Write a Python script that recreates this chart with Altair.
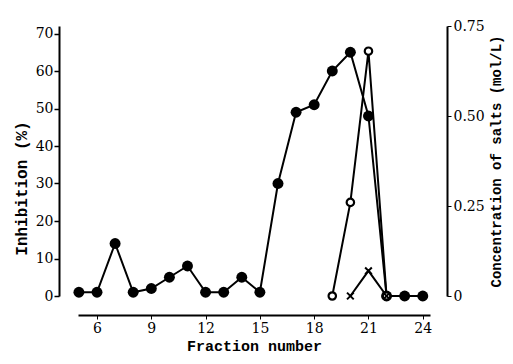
import altair as alt
import pandas as pd

# Inhibition (%) — filled circles
frac_inh = [5, 6, 7, 8, 9, 10, 11, 12, 13, 14, 15, 16, 17, 18, 19, 20, 21, 22, 23, 24]
inhibition = [1, 1, 14, 1, 2, 5, 8, 1, 1, 5, 1, 30, 49, 51, 60, 65, 48, 0, 0, 0]

# Salt concentration (mol/L) — open circles
frac_open = [19, 20, 21, 22]
salt_open = [0.0, 0.26, 0.68, 0.0]

# Salt concentration (mol/L) — crosses
frac_cross = [20, 21, 22]
salt_cross = [0.0, 0.07, 0.0]

x_ticks = [6, 9, 12, 15, 18, 21, 24]
left_ticks = [0, 10, 20, 30, 40, 50, 60, 70]
right_ticks = [0, 0.25, 0.5, 0.75]

df_inh = pd.DataFrame({"frac": frac_inh, "val": inhibition})
df_salt = pd.concat([
    pd.DataFrame({"frac": frac_open, "val": salt_open, "series": "open"}),
    pd.DataFrame({"frac": frac_cross, "val": salt_cross, "series": "cross"}),
])

LABEL_FONT = "DejaVu Serif"
TITLE_FONT = "Liberation Mono"

x_enc = alt.X("frac:Q",
              scale=alt.Scale(domain=[4.95, 24.4], nice=False, zero=False),
              axis=alt.Axis(values=x_ticks, title="Fraction number", offset=19,
                            grid=False, labelFont=LABEL_FONT, labelFontSize=14,
                            titleFont=TITLE_FONT, titleFontSize=15, titleFontWeight="bold",
                            titlePadding=3, domainWidth=2, domainColor="black",
                            tickColor="black", labelColor="black", titleColor="black",
                            tickSize=4))

y_left = alt.Y("val:Q",
               scale=alt.Scale(domain=[0, 72], nice=False),
               axis=alt.Axis(values=left_ticks, title="Inhibition (%)", offset=19,
                             grid=False, labelFont=LABEL_FONT, labelFontSize=14,
                             titleFont=TITLE_FONT, titleFontSize=16, titleFontWeight="bold",
                             titlePadding=6, titleY=162, domainWidth=2, domainColor="black",
                             tickColor="black", labelColor="black", titleColor="black",
                             tickSize=5, tickWidth=1.5, labelPadding=1))

y_right = alt.Y("val:Q",
                scale=alt.Scale(domain=[0, 0.75], nice=False),
                axis=alt.Axis(values=right_ticks, orient="right",
                              title="Concentration of salts (mol/L)", offset=17,
                              grid=False, labelFont=LABEL_FONT, labelFontSize=14,
                              labelExpr="datum.value == 0 ? '0' : format(datum.value, '.2f')",
                              titleFont=TITLE_FONT, titleFontSize=14, titleFontWeight="bold",
                              titleAngle=270, titleBaseline="top", titlePadding=5,
                              domainWidth=2, domainColor="black", tickColor="black",
                              labelColor="black", titleColor="black", tickSize=4,
                              labelPadding=2))

base_inh = alt.Chart(df_inh)
inh_line = base_inh.mark_line(color="black", strokeWidth=2).encode(x=x_enc, y=y_left)
inh_pts = base_inh.mark_circle(color="black", size=120, opacity=1).encode(x=x_enc, y=y_left)
left = alt.layer(inh_line, inh_pts)

base_salt = alt.Chart(df_salt)
salt_line = base_salt.mark_line(color="black", strokeWidth=2).encode(
    x=x_enc, y=y_right, detail="series:N")
open_pts = base_salt.transform_filter(alt.datum.series == "open").mark_point(
    shape="circle", filled=True, fill="white", stroke="black", strokeWidth=2.2,
    size=55, opacity=1).encode(x=x_enc, y=y_right)
cross_pts = base_salt.transform_filter(alt.datum.series == "cross").mark_point(
    shape="M-1,-1L1,1M-1,1L1,-1", filled=False, stroke="black", strokeWidth=2,
    size=45, opacity=1).encode(x=x_enc, y=y_right)
right = alt.layer(salt_line, open_pts, cross_pts)

chart = alt.layer(left, right).resolve_scale(y="independent").properties(
    width=352, height=270,
    autosize=alt.AutoSizeParams(type="none"),
    padding={"left": 70, "top": 18, "right": 75, "bottom": 60},
    background="white",
).configure_view(stroke=None)

chart.save("out.html", embed_options={"renderer": "svg", "actions": False})
